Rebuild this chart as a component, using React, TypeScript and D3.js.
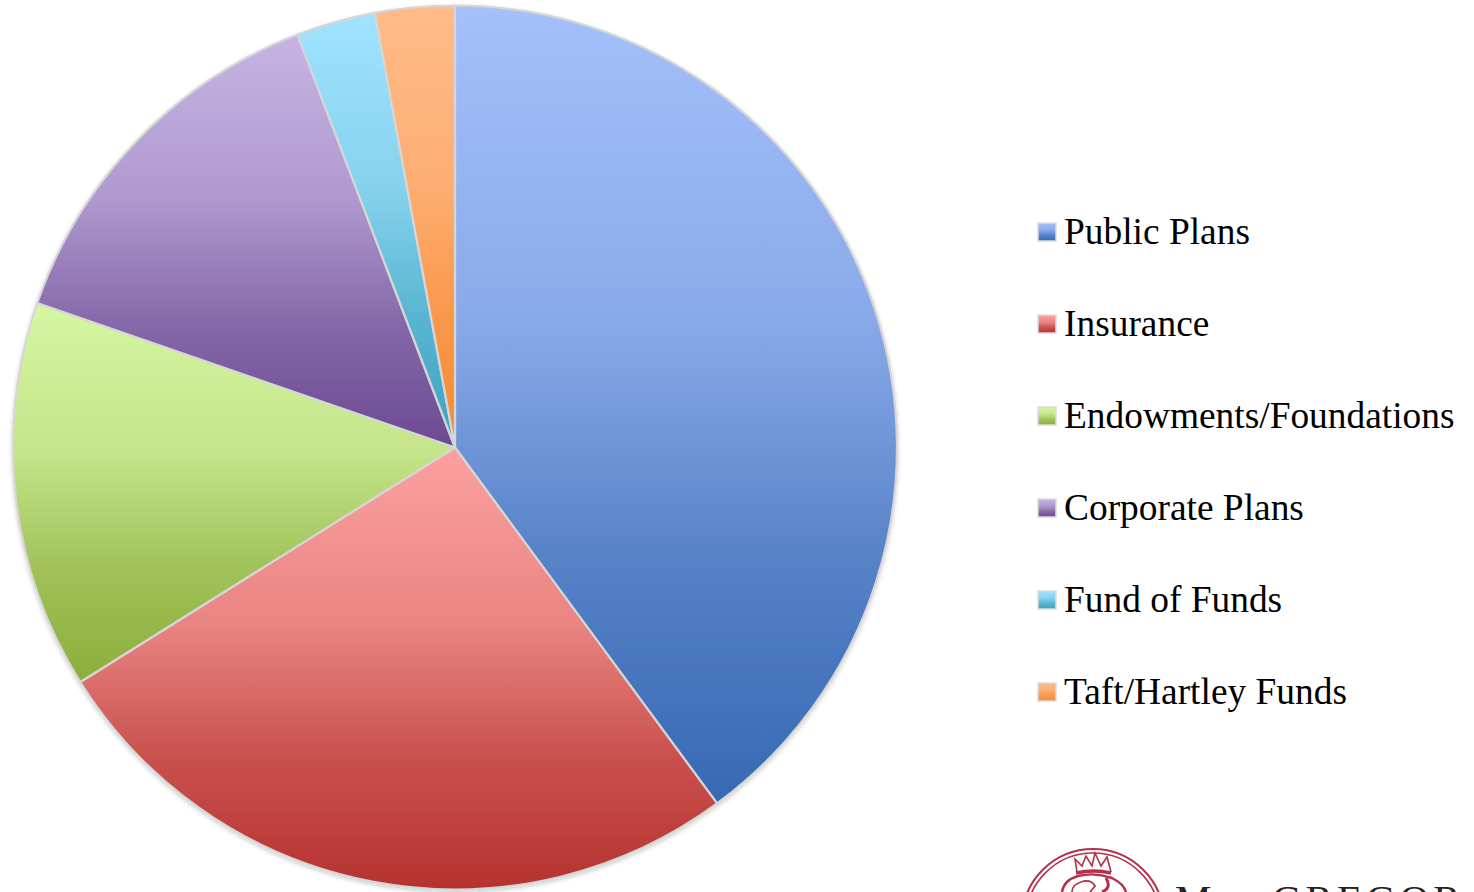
import React, { useEffect, useRef } from 'react';
import * as d3 from 'd3';

const categories = ['Public Plans', 'Insurance', 'Endowments/Foundations', 'Corporate Plans', 'Fund of Funds', 'Taft/Hartley Funds'];
const values = [39.9, 26.2, 14.2, 13.9, 2.9, 2.9];
const topColors = ['#a5c0fa', '#fba1a0', '#d6f7a3', '#c7b4e3', '#a0e3ff', '#ffbb88'];
const bottomColors = ['#3669b3', '#b5322e', '#8bae3c', '#6c4a92', '#3ca3bf', '#f68a33'];
// how far each gradient has moved from top colour to bottom colour at a given offset
const gradientOffsets = [0, 0.4, 0.7, 1];
const gradientMix = [0, 0.26, 0.72, 1];

const W = 1474;
const H = 892;
const serif = '"Liberation Serif", "Times New Roman", serif';

export default function App() {
  const svgRef = useRef<SVGSVGElement>(null);

  useEffect(() => {
    if (!svgRef.current) return;
    const svg = d3.select(svgRef.current);
    svg.selectAll('*').remove();

    const cx = 455;
    const cy = 447.5;
    const r = 442;

    const defs = svg.append('defs');
    categories.forEach((c, i) => {
      const mix = d3.interpolateRgb(topColors[i], bottomColors[i]);
      const g = defs.append('linearGradient')
        .attr('id', `grad${i}`)
        .attr('x1', 0).attr('y1', 0)
        .attr('x2', 0).attr('y2', 1);
      gradientOffsets.forEach((o, k) => {
        g.append('stop').attr('offset', o).attr('stop-color', mix(gradientMix[k]));
      });
    });

    const shadow = defs.append('filter')
      .attr('id', 'pieShadow')
      .attr('x', '-5%').attr('y', '-5%')
      .attr('width', '110%').attr('height', '110%');
    shadow.append('feDropShadow')
      .attr('dx', 0).attr('dy', 2)
      .attr('stdDeviation', 2)
      .attr('flood-color', '#000')
      .attr('flood-opacity', 0.2);

    const pie = d3.pie<number>().sort(null)(values);
    const arc = d3.arc<d3.PieArcDatum<number>>().innerRadius(0).outerRadius(r);

    const slices = svg.append('g')
      .attr('transform', `translate(${cx},${cy})`)
      .attr('filter', 'url(#pieShadow)');

    slices.selectAll('path')
      .data(pie)
      .enter()
      .append('path')
      .attr('d', arc)
      .attr('fill', (_, i) => `url(#grad${i})`)
      .attr('stroke', '#d6d6d6')
      .attr('stroke-width', 2.2)
      .attr('stroke-linejoin', 'round');

    // legend
    const y = d3.scalePoint<string>().domain(categories).range([232, 692]);
    const legend = svg.append('g');
    categories.forEach((c, i) => {
      const ly = y(c) as number;
      legend.append('rect')
        .attr('x', 1038).attr('y', ly - 9)
        .attr('width', 18).attr('height', 18)
        .attr('fill', `url(#grad${i})`)
        .attr('stroke', '#dcdcdc')
        .attr('stroke-width', 1.5);
      legend.append('text')
        .attr('x', 1064).attr('y', ly + 12)
        .attr('font-family', serif)
        .attr('font-size', 37.4)
        .attr('fill', '#000')
        .text(c);
    });

    // logo, cut off by the bottom of the page
    const logo = svg.append('g').attr('fill', 'none').attr('stroke', '#b5304a');
    logo.append('circle').attr('cx', 1093).attr('cy', 920).attr('r', 71).attr('stroke-width', 2);
    logo.append('circle').attr('cx', 1093).attr('cy', 920).attr('r', 67).attr('stroke-width', 1.6);
    logo.append('path')
      .attr('d', 'M1077 872 L1075 859 L1082 866 L1086 856 L1092 866 L1095 853 L1101 866 L1107 857 L1111 872')
      .attr('stroke-width', 1.6);
    logo.append('path').attr('d', 'M1076 873 Q1094 869 1111 873').attr('stroke-width', 3.5);
    logo.append('path').attr('d', 'M1062 892 Q1064 880 1078 876 Q1095 872 1112 878 Q1124 884 1126 892').attr('stroke-width', 2.4);
    logo.append('path').attr('d', 'M1072 892 Q1072 884 1084 881 Q1092 880 1095 886 L1090 892').attr('stroke-width', 1.8);
    logo.append('path').attr('d', 'M1102 892 Q1112 888 1106 878').attr('stroke-width', 3);

    const name = svg.append('text')
      .attr('y', 913)
      .attr('font-family', serif)
      .attr('fill', '#222');
    name.append('tspan').attr('x', 1175).attr('font-size', 41).text('M');
    name.append('tspan').attr('x', 1218).attr('font-size', 28).text('A');
    name.append('tspan').attr('x', 1248).attr('font-size', 28).text('C');
    name.append('tspan').attr('x', 1272).attr('font-size', 41).attr('letter-spacing', 4).text('GREGOR');
  }, []);

  return (
    <svg
      ref={svgRef}
      width={W}
      height={H}
      style={{ position: 'absolute', left: 0, top: 0, display: 'block', background: '#fff' }}
    />
  );
}
